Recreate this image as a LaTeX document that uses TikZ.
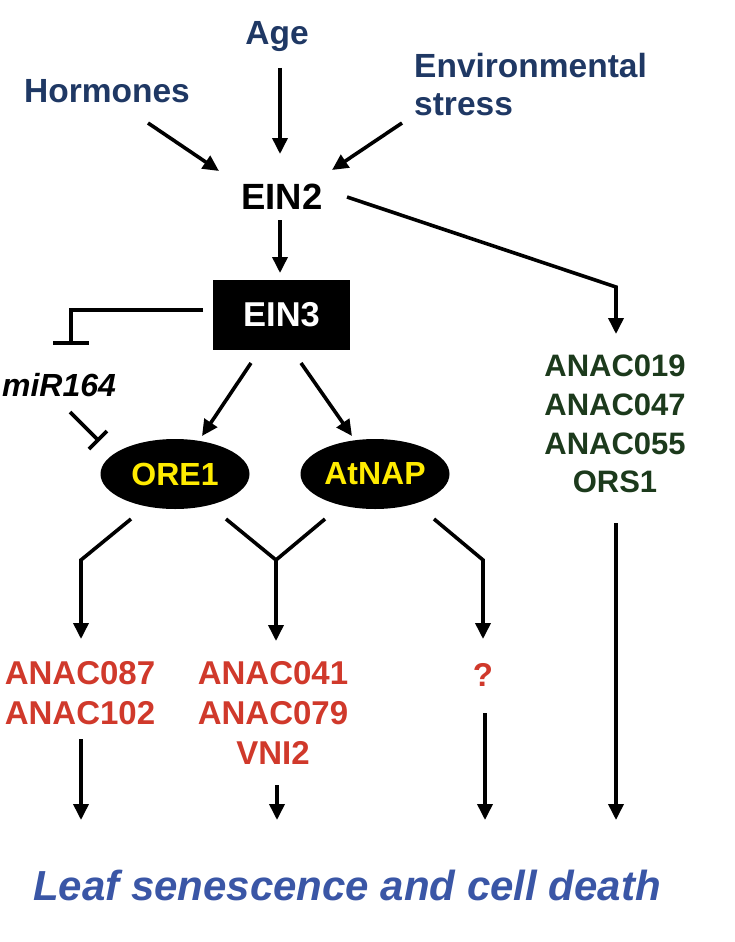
\documentclass[tikz,border=0pt]{standalone}
\usepackage{fontspec}
\setmainfont{Liberation Sans}
\usetikzlibrary{arrows.meta,shapes.geometric}
\definecolor{navy}{RGB}{31,56,100}
\definecolor{leafblue}{RGB}{58,86,166}
\definecolor{nacred}{RGB}{208,57,43}
\definecolor{nacgreen}{RGB}{28,58,28}
\definecolor{oreyellow}{RGB}{255,235,0}
\begin{document}
\begin{tikzpicture}[x=1pt,y=-1pt,
  lbl/.style={inner sep=0pt, font=\bfseries\fontsize{32}{38}\selectfont},
  factor/.style={lbl, text=navy, font=\bfseries\fontsize{33.5}{38}\selectfont},
  ln/.style={line width=3.6pt, line join=miter},
  arr/.style={ln, -{Triangle[length=16pt,width=15pt]}},
  tf/.style={ellipse, fill=black, minimum width=149pt, minimum height=70pt, inner sep=0pt, text=oreyellow, font=\bfseries\fontsize{32}{38}\selectfont}]
\fill[white] (0,0) rectangle (735,942);
\useasboundingbox (0,0) rectangle (735,942);

% upstream signals
\node[factor, anchor=base] (age) at (277,45) {Age};
\node[factor, anchor=base] (horm) at (107,102) {Hormones};
\node[factor, anchor=north west, align=left] (env) at (414,53) {Environmental\\stress};

\node[lbl, font=\bfseries\fontsize{36.5}{40}\selectfont, anchor=base] (ein2) at (282,209) {EIN2};
\node[fill=black, minimum width=137pt, minimum height=70pt, inner sep=0pt, text=white,
      font=\bfseries\fontsize{34.5}{38}\selectfont] (ein3) at (281.5,315) {EIN3};
\node[lbl, font=\bfseries\itshape\fontsize{32}{38}\selectfont, anchor=base] (mir) at (59,396) {miR164};
\node[tf] (ore1) at (175,474) {ORE1};
\node[tf] (atnap) at (375,474) {AtNAP};

\node[lbl, text=nacgreen, align=center, anchor=north, font=\bfseries\fontsize{31}{38.7}\selectfont] (nacg) at (615,355) {ANAC019\\ANAC047\\ANAC055\\ORS1};
\node[lbl, text=nacred, align=center, anchor=north, font=\bfseries\fontsize{33}{40}\selectfont] (naca) at (80,661) {ANAC087\\ANAC102};
\node[lbl, text=nacred, align=center, anchor=north, font=\bfseries\fontsize{33}{40}\selectfont] (nacb) at (273,661) {ANAC041\\ANAC079\\VNI2};
\node[lbl, text=nacred, font=\bfseries\fontsize{33}{40}\selectfont, anchor=base] (q) at (483,686) {?};

\node[lbl, text=leafblue, font=\bfseries\itshape\fontsize{42}{48}\selectfont, anchor=base] (leaf) at (347,900) {Leaf senescence and cell death};

% connector points
\coordinate (hA) at (148,123); \coordinate (hB) at (219,171);
\coordinate (aA) at (280,68);  \coordinate (aB) at (280,154);
\coordinate (eA) at (402,123); \coordinate (eB) at (332,170);
\coordinate (e2A) at (280,220); \coordinate (e2B) at (280,273);
\coordinate (rA) at (347,197); \coordinate (rK) at (616,287); \coordinate (rB) at (616,334);
\coordinate (iA) at (203,310); \coordinate (iK) at (71,310); \coordinate (iB) at (71,343);
\coordinate (iL) at (53,343); \coordinate (iR) at (89,343);
\coordinate (mA) at (70,412); \coordinate (mB) at (98,440);
\coordinate (mL) at (89,449); \coordinate (mR) at (107,431);
\coordinate (oA) at (251,363); \coordinate (oB) at (202,436);
\coordinate (nA) at (301,363); \coordinate (nB) at (352,436);
\coordinate (b1A) at (131,519); \coordinate (b1K) at (81,560); \coordinate (b1B) at (81,639);
\coordinate (b2A) at (226,519); \coordinate (b2C) at (325,519); \coordinate (b2K) at (276,560); \coordinate (b2B) at (276,641);
\coordinate (b3A) at (434,519); \coordinate (b3K) at (483,560); \coordinate (b3B) at (483,639);
\coordinate (gA) at (616,523); \coordinate (gB) at (616,820);
\coordinate (l1A) at (81,739); \coordinate (l1B) at (81,820);
\coordinate (l2A) at (277,785); \coordinate (l2B) at (277,820);
\coordinate (l3A) at (485,713); \coordinate (l3B) at (485,820);

% connectors
\draw[arr] (hA) -- (hB);
\draw[arr] (aA) -- (aB);
\draw[arr] (eA) -- (eB);
\draw[arr] (e2A) -- (e2B);
\draw[arr] (rA) -- (rK) -- (rB);
\draw[ln] (iA) -- (iK) -- (iB);
\draw[ln] (iL) -- (iR);
\draw[ln] (mA) -- (mB);
\draw[ln] (mL) -- (mR);
\draw[arr] (oA) -- (oB);
\draw[arr] (nA) -- (nB);
\draw[arr] (b1A) -- (b1K) -- (b1B);
\draw[ln] (b2A) -- (b2K) -- (b2C);
\draw[arr] (b2K) -- (b2B);
\draw[arr] (b3A) -- (b3K) -- (b3B);
\draw[arr] (gA) -- (gB);
\draw[arr] (l1A) -- (l1B);
\draw[arr] (l2A) -- (l2B);
\draw[arr] (l3A) -- (l3B);
\end{tikzpicture}
\end{document}
